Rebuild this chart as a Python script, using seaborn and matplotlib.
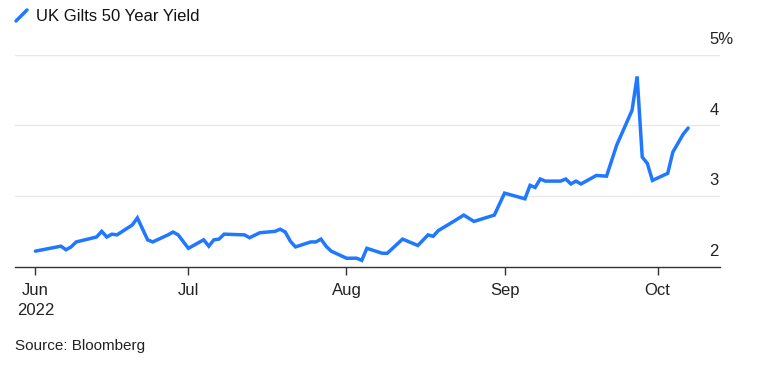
import matplotlib
matplotlib.use("Agg")
import matplotlib.pyplot as plt
from matplotlib.lines import Line2D
import seaborn as sns
import pandas as pd

dates = [
    "2022-06-01", "2022-06-06", "2022-06-07", "2022-06-08", "2022-06-09",
    "2022-06-13", "2022-06-14", "2022-06-15", "2022-06-16", "2022-06-17",
    "2022-06-20", "2022-06-21", "2022-06-23", "2022-06-24", "2022-06-27",
    "2022-06-28", "2022-06-29", "2022-07-01", "2022-07-04", "2022-07-05",
    "2022-07-06", "2022-07-07", "2022-07-08", "2022-07-12", "2022-07-13",
    "2022-07-15", "2022-07-18", "2022-07-19", "2022-07-20", "2022-07-21",
    "2022-07-22", "2022-07-25", "2022-07-26", "2022-07-27", "2022-07-28",
    "2022-07-29", "2022-08-01", "2022-08-03", "2022-08-04", "2022-08-05",
    "2022-08-08", "2022-08-09", "2022-08-12", "2022-08-15", "2022-08-17",
    "2022-08-18", "2022-08-19", "2022-08-22", "2022-08-24", "2022-08-26",
    "2022-08-30", "2022-09-01", "2022-09-05", "2022-09-06", "2022-09-07",
    "2022-09-08", "2022-09-09", "2022-09-12", "2022-09-13", "2022-09-14",
    "2022-09-15", "2022-09-16", "2022-09-19", "2022-09-21", "2022-09-22",
    "2022-09-23", "2022-09-26", "2022-09-27", "2022-09-28", "2022-09-29",
    "2022-09-30", "2022-10-03", "2022-10-04", "2022-10-06", "2022-10-07",
]
yields = [
    2.22, 2.29, 2.24, 2.28, 2.35,
    2.42, 2.50, 2.42, 2.46, 2.45,
    2.59, 2.69, 2.38, 2.35, 2.45,
    2.49, 2.45, 2.26, 2.38, 2.29,
    2.38, 2.39, 2.46, 2.45, 2.41,
    2.48, 2.50, 2.53, 2.49, 2.36,
    2.28, 2.35, 2.35, 2.39, 2.29,
    2.22, 2.12, 2.12, 2.09, 2.26,
    2.19, 2.19, 2.39, 2.30, 2.45,
    2.43, 2.51, 2.64, 2.73, 2.64,
    2.73, 3.04, 2.96, 3.15, 3.12,
    3.24, 3.21, 3.21, 3.24, 3.17,
    3.21, 3.17, 3.29, 3.28, 3.50,
    3.72, 4.21, 4.69, 3.55, 3.46,
    3.22, 3.32, 3.62, 3.87, 3.96,
]
y_ticks = [2, 3, 4, 5]
y_tick_labels = ["2", "3", "4", "5%"]
x_ticks = ["2022-06-01", "2022-07-01", "2022-08-01", "2022-09-01", "2022-10-01"]
x_tick_labels = ["Jun\n2022", "Jul", "Aug", "Sep", "Oct"]
title = "UK Gilts 50 Year Yield"
source = "Source: Bloomberg"

LINE = "#1f78ff"
FONT = ["Liberation Sans", "DejaVu Sans"]

sns.set_theme(style="white")
plt.rcParams["font.family"] = FONT

df = pd.DataFrame({"date": pd.to_datetime(dates), "yield": yields})

fig = plt.figure(figsize=(7.6, 3.67), dpi=100)
ax = fig.add_axes([15 / 760, 1 - 266.7 / 367, (720 - 15) / 760, (266.7 - 54.5) / 367])

sns.lineplot(data=df, x="date", y="yield", ax=ax, color=LINE, linewidth=2.5,
             solid_joinstyle="miter", solid_capstyle="round")

ax.set_xlim(pd.Timestamp("2022-05-28"), pd.Timestamp("2022-10-13 06:00"))
ax.set_ylim(2, 5)

for v in y_ticks[1:]:
    ax.axhline(v, color="#e8e8e8", linewidth=1, zorder=0)
ax.set_yticks([])
for v, lab in zip(y_ticks, y_tick_labels):
    ax.annotate(lab, xy=(1, v), xycoords=("axes fraction", "data"),
                xytext=(-7.5, 5.5), textcoords="offset points",
                ha="left", va="bottom", fontsize=12, color="#222222",
                annotation_clip=False)

ax.set_xticks(pd.to_datetime(x_ticks))
ax.set_xticklabels(x_tick_labels, fontsize=12, color="#222222", linespacing=1.35)
ax.tick_params(axis="x", direction="out", length=6, width=1, color="#333333", pad=6, bottom=True)
for lab in ax.get_xticklabels():
    lab.set_ha("center")

for s in ["top", "right", "left"]:
    ax.spines[s].set_visible(False)
ax.spines["bottom"].set_color("#333333")
ax.spines["bottom"].set_linewidth(1)
ax.set_xlabel("")
ax.set_ylabel("")

fig.add_artist(Line2D([16 / 760, 27 / 760], [1 - 21 / 367, 1 - 10 / 367],
                      transform=fig.transFigure, color=LINE, linewidth=2.5,
                      solid_capstyle="round"))
fig.text(36 / 760, 1 - 16.5 / 367, title, fontsize=12, ha="left", va="center", color="#111111")
fig.text(15 / 760, 1 - 346 / 367, source, fontsize=11, ha="left", va="center", color="#222222")

fig.savefig("out.png", dpi=100)
